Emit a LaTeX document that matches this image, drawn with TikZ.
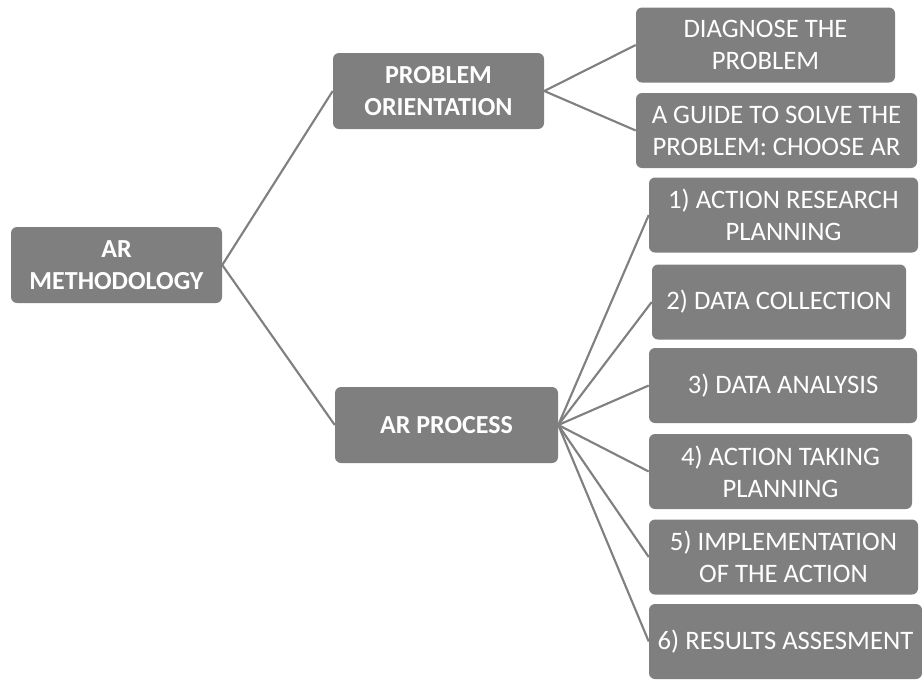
\documentclass[tikz,border=0pt]{standalone}
\usepackage{fontspec}
\setmainfont{Carlito}
\definecolor{boxgray}{HTML}{7F7F7F}
\definecolor{linegray}{HTML}{808080}
\tikzset{
  box/.style={fill=boxgray, rounded corners=4.5pt, text=white, align=center,
    inner sep=0pt, minimum height=56.25pt, font=\fontsize{20}{24}\selectfont},
  boldbox/.style={box, font=\fontsize{19.5}{24}\selectfont\bfseries},
  link/.style={draw=linegray, line width=1.6pt}
}
\begin{document}
\begin{tikzpicture}[x=0.75pt,y=-0.75pt]
\useasboundingbox (0,0) rectangle (922,679);
\node[boldbox, minimum width=158.25pt, minimum height=57pt] (arm) at (116.5,265) {AR\\METHODOLOGY};
\node[boldbox, minimum width=158.25pt, minimum height=57pt] (po) at (438.5,91) {PROBLEM\\ORIENTATION};
\node[boldbox, minimum width=167.25pt, minimum height=57pt] (ap) at (446.5,425) {AR PROCESS};
\node[box, minimum width=194.25pt] (dg) at (765.5,45) {DIAGNOSE THE\\PROBLEM};
\node[box, minimum width=210.75pt] (gd) at (776.5,130.5) {A GUIDE TO SOLVE THE\\PROBLEM: CHOOSE AR};
\node[box, minimum width=201.75pt] (s1) at (783.5,215) {1) ACTION RESEARCH\\PLANNING};
\node[box, minimum width=190.5pt] (s2) at (779,302) {2) DATA COLLECTION};
\node[box, minimum width=201pt] (s3) at (783,385.5) {3) DATA ANALYSIS};
\node[box, minimum width=197.25pt] (s4) at (780.5,471.5) {4) ACTION TAKING\\PLANNING};
\node[box, minimum width=201.75pt] (s5) at (783.5,557) {5) IMPLEMENTATION\\OF THE ACTION};
\node[box, minimum width=204.75pt] (s6) at (785.5,641.5) {6) RESULTS ASSESMENT};
\draw[link] (arm.east) -- (po.west);
\draw[link] (arm.east) -- (ap.west);
\draw[link] (po.east) -- (dg.west);
\draw[link] (po.east) -- (gd.west);
\foreach \s in {s1,s2,s3,s4,s5,s6}
  \draw[link] (ap.east) -- (\s.west);
\end{tikzpicture}
\end{document}
